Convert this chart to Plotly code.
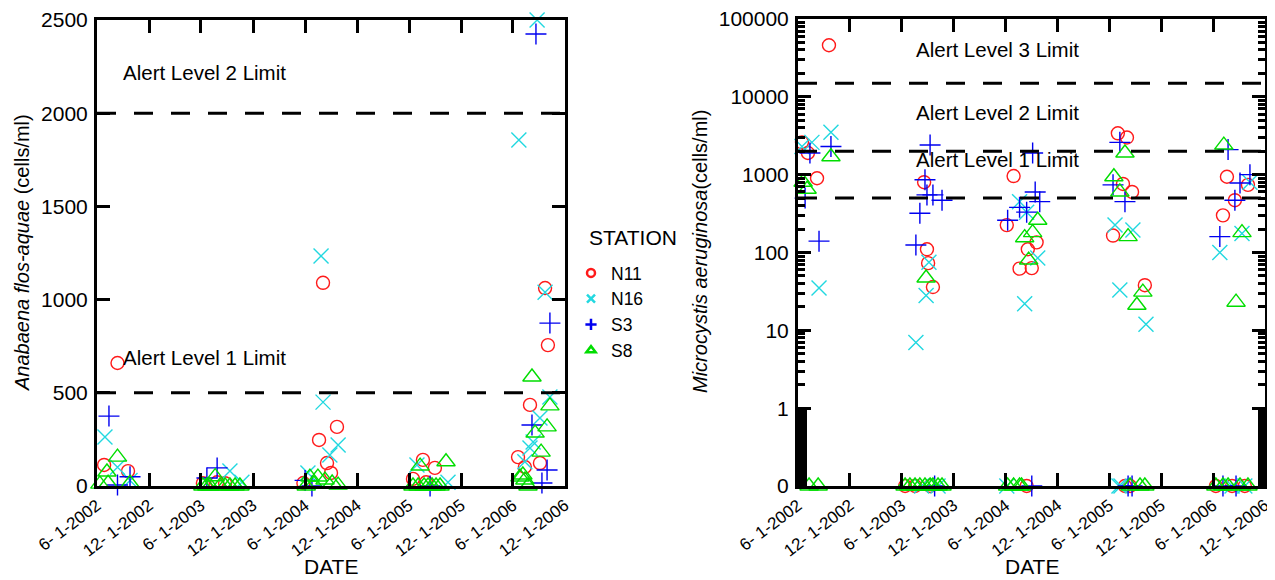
import math
import plotly.graph_objects as go

# ---------------- Left panel: Anabaena flos-aquae (cells/ml) ----------------
A_N11_dates = ["2002-06-26", "2002-08-12", "2002-09-18", "2003-06-08", "2003-07-28", "2003-08-25",
               "2004-05-26", "2004-07-20", "2004-08-03", "2004-08-17", "2004-08-31", "2004-09-21",
               "2005-06-15", "2005-07-20", "2005-07-31", "2005-08-31",
               "2006-06-19", "2006-07-13", "2006-07-31", "2006-09-04", "2006-09-22", "2006-10-02"]
A_N11_vals = [113, 660, 80, 15, 20, 15,
              16, 247, 1090, 123, 70, 317,
              38, 140, 20, 97,
              155, 102, 435, 123, 1062, 756]

A_N16_dates = ["2002-06-29", "2002-08-12", "2002-09-25", "2003-09-11", "2003-10-23",
               "2004-06-11", "2004-07-27", "2004-08-03", "2004-08-27", "2004-09-25",
               "2005-06-29", "2005-10-16",
               "2006-06-22", "2006-07-13", "2006-07-31", "2006-08-11", "2006-08-25", "2006-09-04",
               "2006-09-22", "2006-10-09"]
A_N16_vals = [263, 100, 30, 80, 20,
              70, 1234, 450, 166, 220,
              113, 20,
              1856, 130, 204, 236, 2500, 365,
              1040, 478]

A_S3_dates = ["2002-07-13", "2002-08-12", "2002-09-25", "2003-06-22", "2003-07-28",
              "2004-06-01", "2004-06-25", "2005-08-14",
              "2006-08-07", "2006-08-21", "2006-09-11", "2006-09-29", "2006-10-09"]
A_S3_vals = [375, 5, 50, 43, 97,
             30, 0, 0,
             327, 2425, 16, 86, 874]

A_S8_dates = ["2002-06-11", "2002-07-06", "2002-07-10", "2002-08-12", "2002-09-25",
              "2003-06-08", "2003-06-22", "2003-07-03", "2003-07-21", "2003-08-07", "2003-08-25",
              "2003-09-11", "2003-09-29", "2003-10-16",
              "2004-06-05", "2004-06-18", "2004-07-02", "2004-07-16", "2004-08-10", "2004-09-04",
              "2004-09-25",
              "2005-06-15", "2005-07-03", "2005-07-10", "2005-07-24", "2005-08-07", "2005-08-21",
              "2005-09-04", "2005-09-18", "2005-10-09",
              "2006-06-26", "2006-07-06", "2006-07-13", "2006-07-24", "2006-08-07", "2006-08-18",
              "2006-09-08", "2006-09-29", "2006-10-09"]
A_S8_vals = [10, 75, 15, 155, 15,
             0, 0, 0, 50, 0, 0,
             0, 0, 0,
             0, 48, 10, 48, 32, 16,
             5,
             0, 0, 107, 0, 0, 0,
             0, 0, 130,
             48, 59, 32, 0, 585, 284,
             182, 317, 430]

# ---------------- Right panel: Microcystis aeruginosa (cells/ml) ----------------
M_N11_dates = ["2002-06-15", "2002-07-06", "2002-08-07", "2002-09-18",
               "2003-06-13", "2003-07-18", "2003-08-19", "2003-08-29", "2003-09-02", "2003-09-09",
               "2003-09-19",
               "2004-06-05", "2004-06-29", "2004-07-20", "2004-08-14", "2004-08-18", "2004-09-01",
               "2004-09-18",
               "2005-06-14", "2005-07-01", "2005-07-19", "2005-07-26", "2005-08-02", "2005-08-13",
               "2005-08-20", "2005-10-04",
               "2006-06-11", "2006-07-06", "2006-07-20", "2006-08-07", "2006-08-17", "2006-09-21",
               "2006-10-02"]
M_N11_vals = [2600, 1900, 900, 46000,
              0, 0, 800, 110, 73, 0,
              36,
              225, 960, 62, 0, 110, 63,
              135,
              165, 3400, 760, 0, 3000, 0,
              600, 38,
              0, 300, 940, 0, 470, 0,
              740]

M_N16_dates = ["2002-06-15", "2002-07-20", "2002-08-14", "2002-09-25",
               "2003-07-21", "2003-08-10", "2003-08-26", "2003-09-05", "2003-10-07",
               "2004-06-05", "2004-07-20", "2004-08-07", "2004-08-14", "2004-09-22",
               "2005-06-21", "2005-07-05", "2005-07-08", "2005-07-12", "2005-08-23", "2005-10-08",
               "2006-06-25", "2006-08-07", "2006-09-11", "2006-09-21", "2006-10-09"]
M_N16_vals = [2300, 2600, 35, 3500,
              7, 0, 28, 75, 0,
              0, 450, 22, 330, 85,
              225, 0, 33, 0, 195, 12,
              100, 0, 175, 0, 800]

M_S3_dates = ["2002-06-26", "2002-07-13", "2002-08-14", "2002-09-25",
              "2003-07-21", "2003-08-04", "2003-08-22", "2003-08-29", "2003-09-09", "2003-09-19",
              "2003-09-25", "2003-10-21",
              "2004-06-08", "2004-07-20", "2004-08-14", "2004-09-01", "2004-09-04", "2004-09-13",
              "2004-09-29",
              "2005-06-14", "2005-07-08", "2005-07-26", "2005-08-06", "2005-08-20",
              "2006-06-25", "2006-07-06", "2006-07-24", "2006-08-17", "2006-08-21", "2006-09-04",
              "2006-10-09"]
M_S3_vals = [500, 1900, 140, 2300,
             125, 320, 860, 550, 2400, 550,
             0, 470,
             260, 380, 330, 0, 1900, 600,
             450,
             740, 2600, 450, 0, 0,
             160, 0, 2100, 470, 0, 780,
             1000]

M_S8_dates = ["2002-06-19", "2002-07-03", "2002-07-10", "2002-08-11", "2002-09-25",
              "2003-06-13", "2003-06-30", "2003-07-18", "2003-08-04", "2003-08-22", "2003-08-26",
              "2003-09-09", "2003-09-19", "2003-10-07", "2003-10-21",
              "2004-06-08", "2004-06-29", "2004-07-20", "2004-07-27", "2004-08-07", "2004-08-21",
              "2004-09-04", "2004-09-22",
              "2005-06-17", "2005-07-08", "2005-07-26", "2005-08-06", "2005-08-13", "2005-09-06",
              "2005-09-17", "2005-09-27", "2005-10-04",
              "2006-06-11", "2006-07-06", "2006-07-09", "2006-07-24", "2006-08-21", "2006-09-04",
              "2006-09-11", "2006-10-02"]
M_S8_vals = [800, 650, 0, 0, 1700,
             0, 0, 0, 0, 0, 47,
             0, 0, 0, 0,
             0, 0, 0, 0, 155, 80,
             180, 260,
             940, 600, 1900, 160, 0, 21,
             0, 31, 0,
             0, 0, 2400, 0, 23, 0,
             180, 0]

# ---------------- axes / labels ----------------
X_TICK_DATES = ["2002-06-01", "2002-12-01", "2003-06-01", "2003-12-01", "2004-06-01",
                "2004-12-01", "2005-06-01", "2005-12-01", "2006-06-01", "2006-12-01"]
X_TICK_TEXT = ["6- 1-2002", "12- 1-2002", "6- 1-2003", "12- 1-2003", "6- 1-2004",
               "12- 1-2004", "6- 1-2005", "12- 1-2005", "6- 1-2006", "12- 1-2006"]
LOG_TICK_VALS = [0.1, 1, 10, 100, 1000, 10000, 100000]
LOG_TICK_TEXT = ["0", "1", "10", "100", "1000", "10000", "100000"]

A_LIMITS = [500, 2000]
A_LIMIT_TEXT = [(687, "Alert Level 1 Limit"), (2216, "Alert Level 2 Limit")]
M_LIMITS = [500, 2000, 15000]
M_LIMIT_TEXT = [(1580, "Alert Level 1 Limit"), (6200, "Alert Level 2 Limit"),
                (40000, "Alert Level 3 Limit")]

STATIONS = ["N11", "N16", "S3", "S8"]
COLORS = {"N11": "#ff1a1a", "N16": "#22d8e0", "S3": "#0000f0", "S8": "#00dd00"}
SYMBOLS = {"N11": "circle-open", "N16": "x-thin-open", "S3": "cross-thin-open",
           "S8": "triangle-up-open"}
SIZES = {"N11": 13, "N16": 15, "S3": 15, "S8": 16}

A_DATA = {"N11": (A_N11_dates, A_N11_vals), "N16": (A_N16_dates, A_N16_vals),
          "S3": (A_S3_dates, A_S3_vals), "S8": (A_S8_dates, A_S8_vals)}
M_DATA = {"N11": (M_N11_dates, M_N11_vals), "N16": (M_N16_dates, M_N16_vals),
          "S3": (M_S3_dates, M_S3_vals), "S8": (M_S8_dates, M_S8_vals)}

FONT = "Liberation Sans, Arial, sans-serif"
# the page has an 8px body margin; the figure starts at (8, 8) in the window
OFF = 8
W, H = 1275 - OFF, 580 - OFF


def px(x):
    return (x - OFF) / W


def py(y):
    return 1 - (y - OFF) / H


fig = go.Figure()

for st in STATIONS:
    d, v = A_DATA[st]
    fig.add_trace(go.Scatter(
        x=d, y=v, mode="markers", xaxis="x", yaxis="y", showlegend=False, cliponaxis=False,
        marker=dict(symbol=SYMBOLS[st], size=SIZES[st], color=COLORS[st],
                    line=dict(color=COLORS[st], width=1.4))))
for st in STATIONS:
    d, v = M_DATA[st]
    yplot = [val if val > 0 else 0.1 for val in v]  # zero shown on the "0" tick
    fig.add_trace(go.Scatter(
        x=d, y=yplot, mode="markers", xaxis="x2", yaxis="y2", showlegend=False, cliponaxis=False,
        marker=dict(symbol=SYMBOLS[st], size=SIZES[st], color=COLORS[st],
                    line=dict(color=COLORS[st], width=1.4))))
# legend entries (small bold symbols as in the original)
for st in STATIONS:
    fig.add_trace(go.Scatter(
        x=[None], y=[None], mode="markers", name=st, xaxis="x", yaxis="y",
        marker=dict(symbol=SYMBOLS[st], size=8, color=COLORS[st],
                    line=dict(color=COLORS[st], width=2.5))))

shapes = []
for lv in A_LIMITS:
    shapes.append(dict(type="line", xref="x domain", yref="y", x0=0, x1=1, y0=lv, y1=lv,
                       line=dict(color="black", width=3, dash="19px,18px")))
for lv in M_LIMITS:
    shapes.append(dict(type="line", xref="x2 domain", yref="y2", x0=0, x1=1, y0=lv, y1=lv,
                       line=dict(color="black", width=3, dash="19px,18px")))
# dense minor-tick band between 0 and 1 on the log axis
shapes.append(dict(type="rect", xref="x2 domain", yref="y2", x0=0, x1=9 / 467, y0=0.1, y1=1,
                   fillcolor="black", line=dict(width=0)))
shapes.append(dict(type="rect", xref="x2 domain", yref="y2", x0=1 - 7 / 467, x1=1, y0=0.1, y1=1,
                   fillcolor="black", line=dict(width=0)))

annotations = []
for val, txt in A_LIMIT_TEXT:
    annotations.append(dict(text=txt, xref="x domain", yref="y", x=24 / 468, y=val,
                            xanchor="left", yanchor="middle", showarrow=False,
                            font=dict(size=20.5, color="black")))
for val, txt in M_LIMIT_TEXT:
    annotations.append(dict(text=txt, xref="x2 domain", yref="y2", x=116 / 467, y=math.log10(val),
                            xanchor="left", yanchor="middle", showarrow=False,
                            font=dict(size=20.5, color="black")))
annotations += [
    dict(text="<i>Anabaena flos-aquae</i> (cells/ml)", xref="paper", yref="paper",
         x=px(22), y=py(253), textangle=-90, showarrow=False, xanchor="center",
         yanchor="middle", font=dict(size=20, color="black")),
    dict(text="<i>Microcystis aeruginosa</i>(cells/ml)", xref="paper", yref="paper",
         x=px(700), y=py(252), textangle=-90, showarrow=False, xanchor="center",
         yanchor="middle", font=dict(size=20, color="black")),
    dict(text="DATE", xref="paper", yref="paper", x=px(331), y=py(566), showarrow=False,
         xanchor="center", yanchor="middle", font=dict(size=21, color="black")),
    dict(text="DATE", xref="paper", yref="paper", x=px(1032), y=py(566), showarrow=False,
         xanchor="center", yanchor="middle", font=dict(size=21, color="black")),
    dict(text="STATION", xref="paper", yref="paper", x=px(587), y=py(237), showarrow=False,
         xanchor="left", yanchor="middle", font=dict(size=21, color="black")),
]

axis_common = dict(showline=True, linewidth=3, linecolor="black", mirror="ticks",
                   ticks="inside", ticklen=13, tickwidth=3, tickcolor="black",
                   showgrid=False, zeroline=False, automargin=False,
                   ticklabeloverflow="allow")

fig.update_layout(
    width=W, height=H, autosize=False,
    margin=dict(l=0, r=0, t=0, b=0),
    paper_bgcolor="white", plot_bgcolor="white",
    font=dict(family=FONT, color="black", size=18),
    showlegend=True,
    legend=dict(x=px(571), y=py(255), xanchor="left", yanchor="top",
                bgcolor="rgba(0,0,0,0)", font=dict(size=17.5), tracegroupgap=0),
    xaxis=dict(domain=[px(97), px(565)], anchor="y", type="date",
               range=["2002-06-01", "2006-12-01"], tickmode="array",
               tickvals=X_TICK_DATES, ticktext=X_TICK_TEXT, tickangle=-37,
               tickfont=dict(size=17), **axis_common),
    yaxis=dict(domain=[py(486), py(20)], anchor="x", range=[0, 2500],
               tickmode="linear", tick0=0, dtick=500, tickfont=dict(size=21),
               ticklabelstandoff=2, **axis_common),
    xaxis2=dict(domain=[px(798), px(1265)], anchor="y2", type="date",
                range=["2002-06-01", "2006-12-01"], tickmode="array",
                tickvals=X_TICK_DATES, ticktext=X_TICK_TEXT, tickangle=-37,
                tickfont=dict(size=17), **axis_common),
    yaxis2=dict(domain=[py(486), py(19)], anchor="x2", type="log", range=[-1, 5],
                tickmode="array", tickvals=LOG_TICK_VALS, ticktext=LOG_TICK_TEXT,
                tickfont=dict(size=21), ticklabelstandoff=2,
                minor=dict(dtick="D1", ticks="inside", ticklen=7,
                           tickwidth=2.5, tickcolor="black", showgrid=False),
                **axis_common),
    shapes=shapes,
    annotations=annotations,
)

fig.write_html("out.html")
